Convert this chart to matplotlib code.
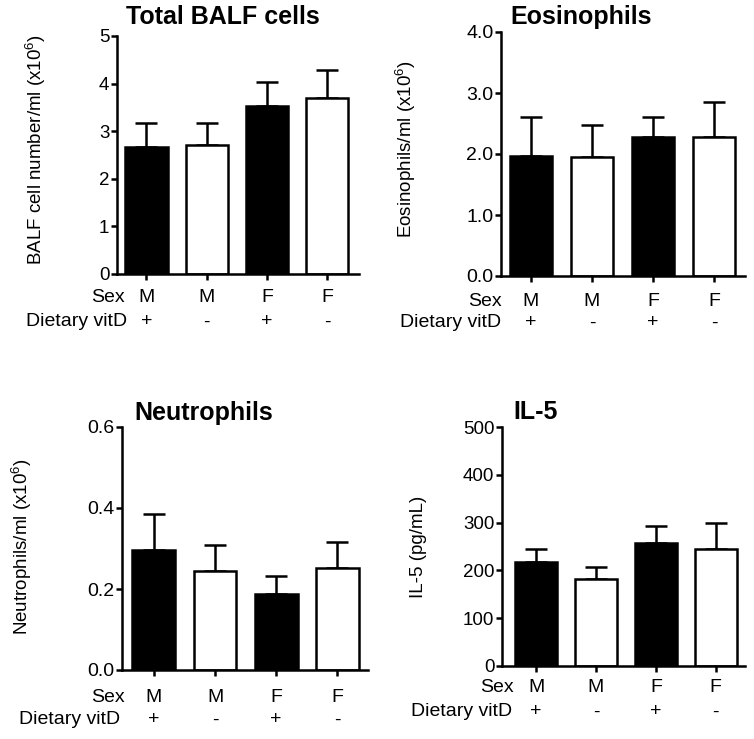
import matplotlib
matplotlib.use("Agg")
import matplotlib.pyplot as plt
import numpy as np

plt.rcParams['font.family'] = ['Liberation Sans', 'DejaVu Sans']
plt.rcParams['mathtext.fontset'] = 'custom'
plt.rcParams['mathtext.rm'] = 'Liberation Sans'

# group labels (same for all panels)
sex = ["M", "M", "F", "F"]
vitd = ["+", "-", "+", "-"]
fills = ["black", "white", "black", "white"]

# panel data: means and upper SEM
balf_mean = [2.67, 2.72, 3.52, 3.69]
balf_err = [0.50, 0.45, 0.52, 0.60]
eos_mean = [1.97, 1.95, 2.28, 2.28]
eos_err = [0.63, 0.52, 0.32, 0.57]
neu_mean = [0.297, 0.245, 0.187, 0.253]
neu_err = [0.087, 0.063, 0.045, 0.063]
il5_mean = [218, 181, 257, 244]
il5_err = [27, 26, 36, 56]

titles = ["Total BALF cells", "Eosinophils", "Neutrophils", "IL-5"]
ylabels = ["BALF cell number/ml (x10$^6$)", "Eosinophils/ml (x10$^6$)",
           "Neutrophils/ml (x10$^6$)", "IL-5 (pg/mL)"]
yticks = [[0, 1, 2, 3, 4, 5], [0.0, 1.0, 2.0, 3.0, 4.0],
          [0.0, 0.2, 0.4, 0.6], [0, 100, 200, 300, 400, 500]]
yfmt = ["{:.0f}", "{:.1f}", "{:.1f}", "{:.0f}"]
means = [balf_mean, eos_mean, neu_mean, il5_mean]
errs = [balf_err, eos_err, neu_err, il5_err]

W, H = 754, 739
fig = plt.figure(figsize=(W / 100, H / 100), dpi=100)

# layout in pixels: axes (left, top, right, bottom), xlim, title xy, ylabel xy,
# row-label x offsets and y offsets below the axis
layout = [
    dict(box=(117, 36, 359, 274), xlim=(-0.49, 3.53), title=(223, 17), ylab=(36, 150),
         rowdx=(8, 10), rowdy=(24, 48), tsize=13.5),
    dict(box=(501, 32, 745, 276), xlim=(-0.49, 3.51), title=(581, 17), ylab=(406, 149),
         rowdx=(1, 0), rowdy=(26, 47), tsize=14),
    dict(box=(122, 427, 368, 670), xlim=(-0.52, 3.50), title=(204, 413), ylab=(22, 547),
         rowdx=(3, -2), rowdy=(27, 50), tsize=14),
    dict(box=(502, 427, 745, 666), xlim=(-0.57, 3.49), title=(536, 412), ylab=(418, 547),
         rowdx=(12, 10), rowdy=(22, 46), tsize=13.5),
]

x = np.arange(len(sex))
px = 72 / 100  # pixels to points
lw = 1.8

for i, lay in enumerate(layout):
    l, t, r, b = lay["box"]
    ax = fig.add_axes([l / W, 1 - b / H, (r - l) / W, (b - t) / H])
    m = np.array(means[i])
    e = np.array(errs[i])
    ax.errorbar(x, m, yerr=[np.zeros_like(e), e], fmt="none", ecolor="black",
                elinewidth=lw, capsize=8, capthick=lw, zorder=1)
    ax.bar(x, m, width=0.7, color=fills, edgecolor="black", linewidth=lw, zorder=2)

    ax.set_xlim(*lay["xlim"])
    ax.set_ylim(yticks[i][0], yticks[i][-1])
    ax.set_yticks(yticks[i])
    ax.set_yticklabels([yfmt[i].format(v) for v in yticks[i]], fontsize=lay["tsize"])
    ax.set_xticks(x)
    ax.set_xticklabels([])
    ax.tick_params(width=lw, length=4.5, direction="out", pad=1)
    for s in ["top", "right"]:
        ax.spines[s].set_visible(False)
    for s in ["left", "bottom"]:
        ax.spines[s].set_linewidth(lw)

    dy1, dy2 = lay["rowdy"]
    for xi, s_lab, v_lab in zip(x, sex, vitd):
        ax.annotate(s_lab, xy=(xi, 0), xycoords=("data", "axes fraction"),
                    xytext=(0, -dy1 * px), textcoords="offset points",
                    ha="center", va="center", fontsize=14, annotation_clip=False)
        ax.annotate(v_lab, xy=(xi, 0), xycoords=("data", "axes fraction"),
                    xytext=(0, -dy2 * px), textcoords="offset points",
                    ha="center", va="center", fontsize=14, annotation_clip=False)
    dx1, dx2 = lay["rowdx"]
    ax.annotate("Sex", xy=(0, 0), xycoords="axes fraction",
                xytext=(dx1 * px, -dy1 * px), textcoords="offset points",
                ha="right", va="center", fontsize=14, annotation_clip=False)
    ax.annotate("Dietary vitD", xy=(0, 0), xycoords="axes fraction",
                xytext=(dx2 * px, -dy2 * px), textcoords="offset points",
                ha="right", va="center", fontsize=14, annotation_clip=False)

    tx, ty = lay["title"]
    fig.text(tx / W, 1 - ty / H, titles[i], ha="center", va="center",
             fontsize=18, fontweight="bold")
    lx, ly = lay["ylab"]
    fig.text(lx / W, 1 - ly / H, ylabels[i], ha="center", va="center",
             rotation=90, fontsize=13.5)

fig.savefig("out.png", dpi=100)
